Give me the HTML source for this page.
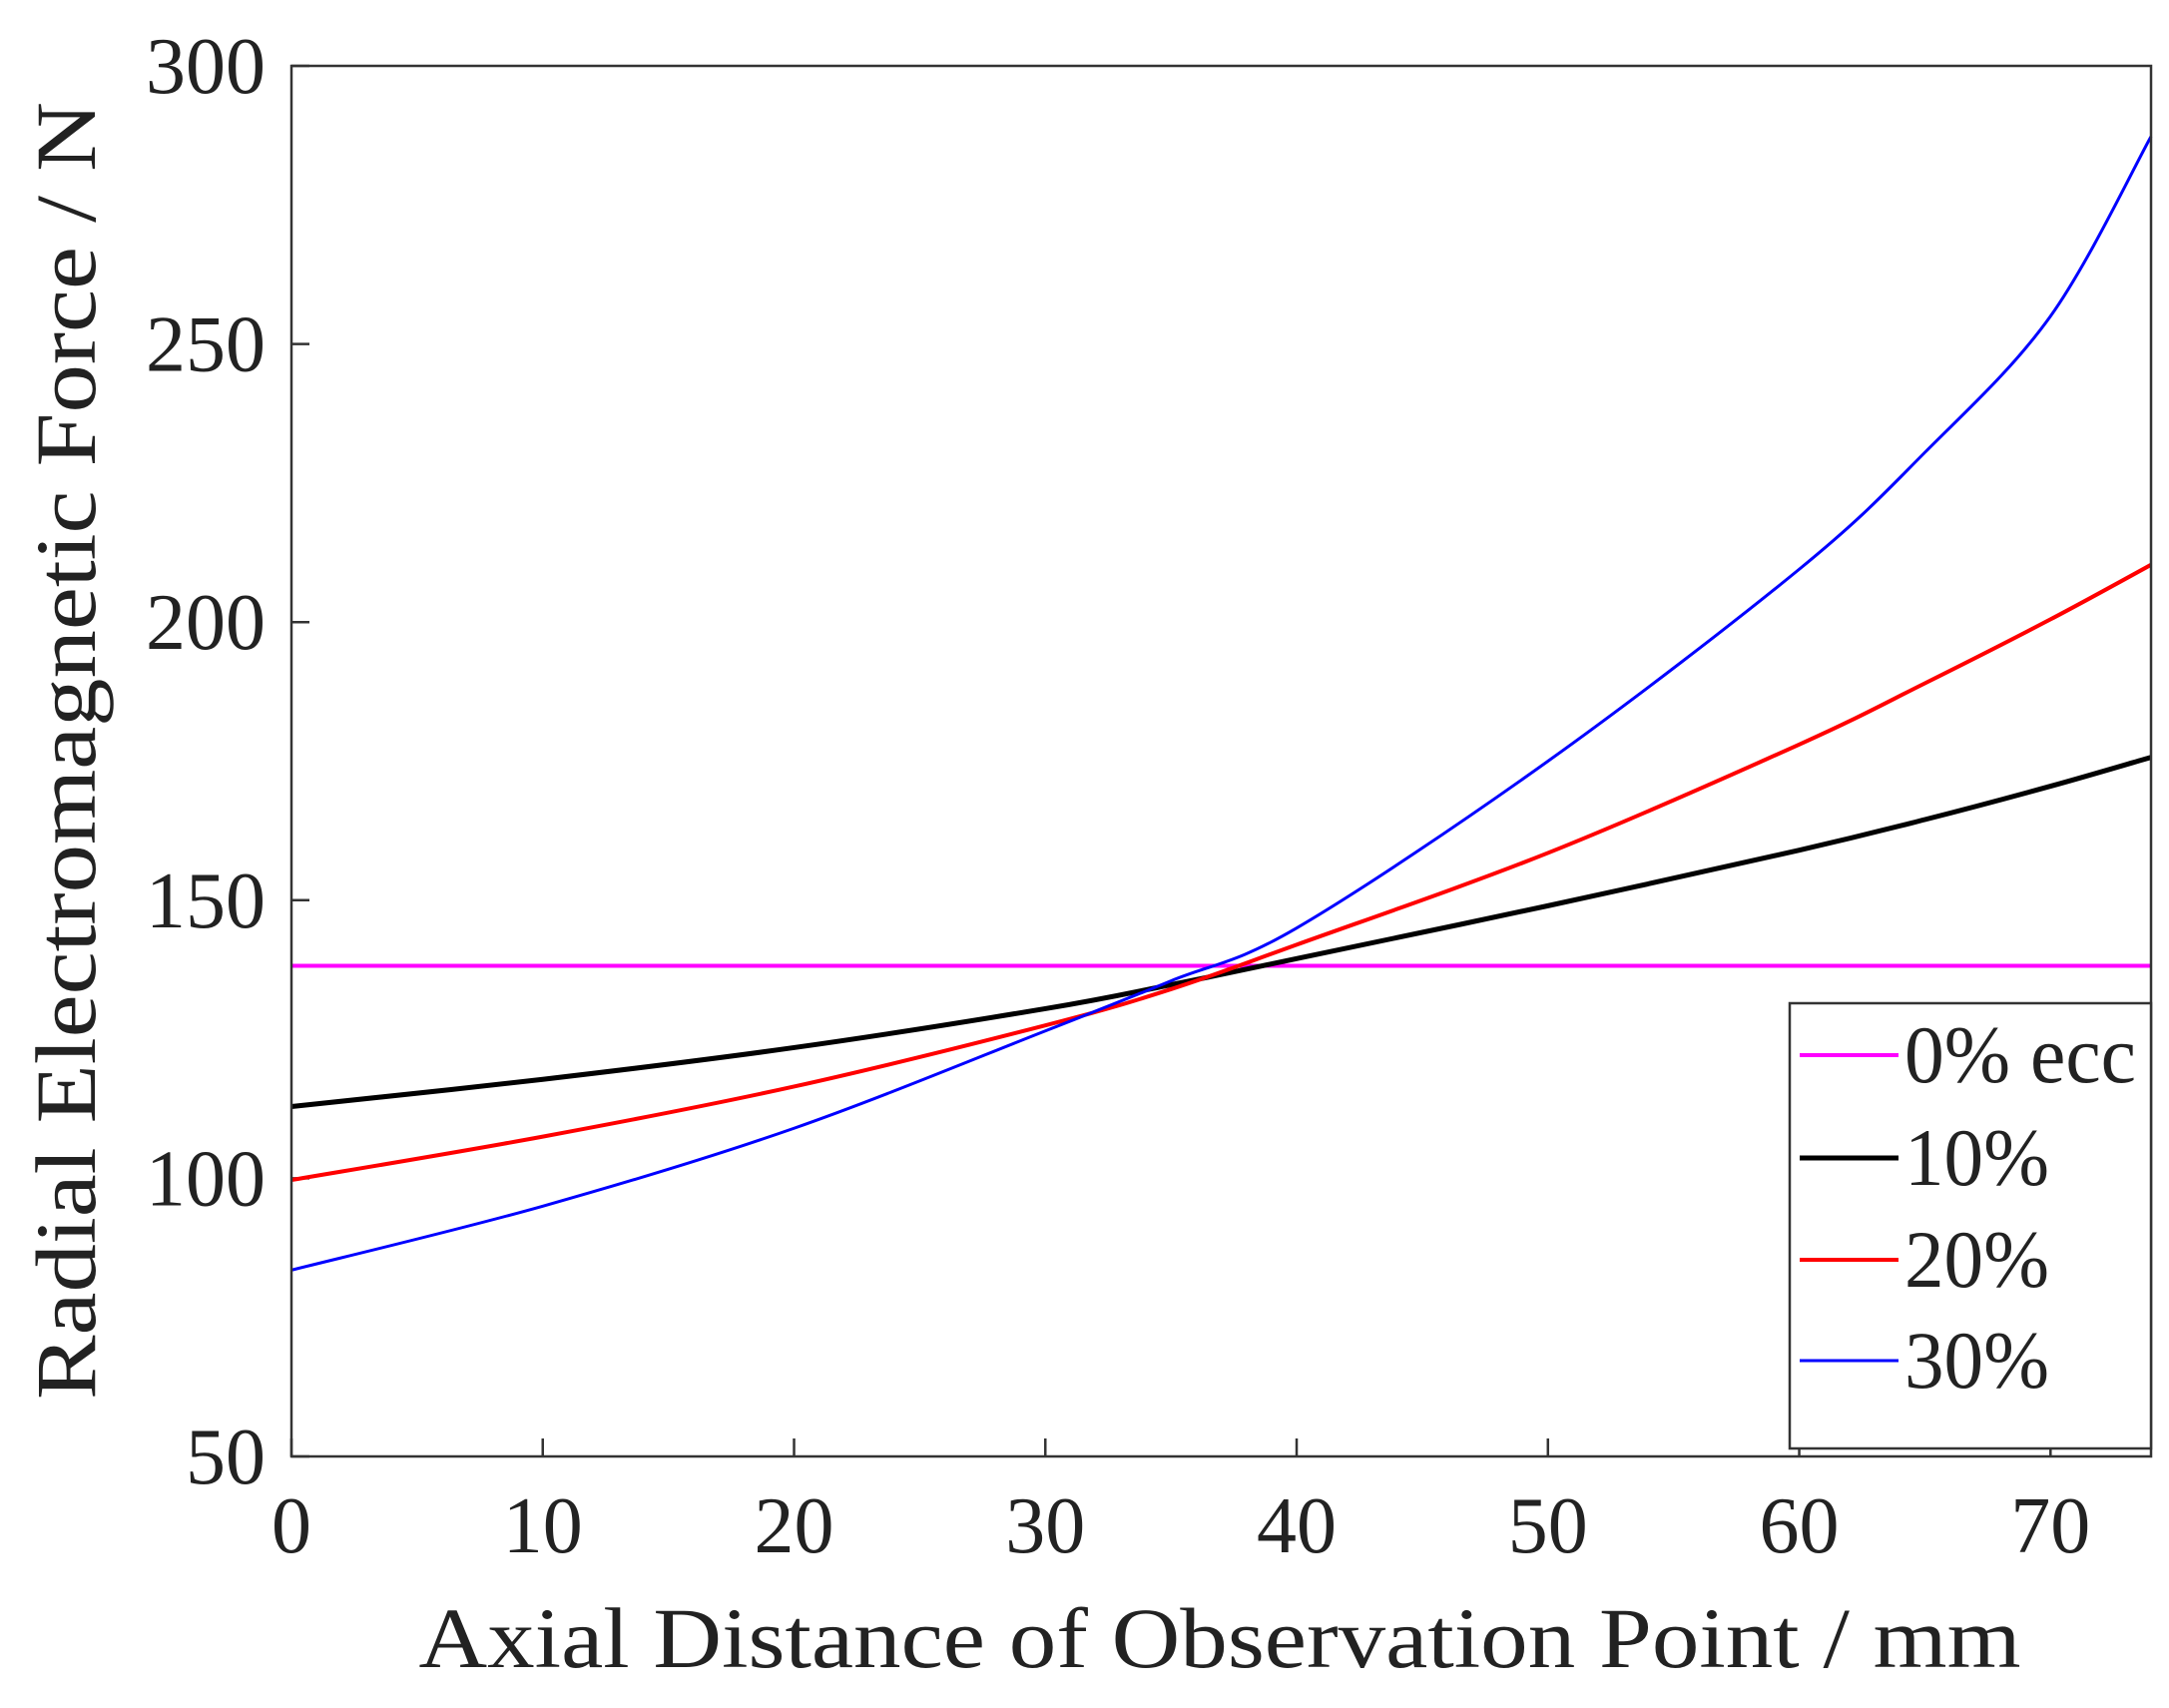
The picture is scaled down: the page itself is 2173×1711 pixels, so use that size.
<!DOCTYPE html>
<html><head><meta charset="utf-8"><style>
body{margin:0;background:#fff}
svg text{font-family:"Liberation Serif",serif;fill:#222}
</style></head><body>
<svg id="chart" width="2173" height="1706" viewBox="0 0 2173 1706" xmlns="http://www.w3.org/2000/svg">
<rect width="2173" height="1706" fill="#fff"/>
<g id="grid"></g>
<g id="series"></g>
<rect x="292" y="66" width="1863" height="1393" fill="none" stroke="#333" stroke-width="2.5"/>
<text x="1222" y="1670" font-size="86" text-anchor="middle" textLength="1605" lengthAdjust="spacingAndGlyphs">Axial Distance of Observation Point / mm</text>
<text transform="translate(95,752) rotate(-90)" font-size="86" text-anchor="middle" textLength="1300" lengthAdjust="spacingAndGlyphs">Radial Electromagnetic Force / N</text>
<g id="legend"></g>
</svg>
<script>
const xTicks=[0,10,20,30,40,50,60,70];
const yTicks=[50,100,150,200,250,300];
const seriesNames=["0% ecc","10%","20%","30%"];
const xs=[0,10,20,30,35,40,50,60,65,70,74];
const ecc0=[138.2,138.2,138.2,138.2,138.2,138.2,138.2,138.2,138.2,138.2,138.2];
const ecc10=[112.9,117.8,123.5,130.5,134.8,139.5,149,159,164.5,170.5,175.7];
const ecc20=[99.7,107.5,116.5,127.5,134,142,158.5,178,189,200.5,210.3];
const ecc30=[83.5,95,109,126.5,135.5,145,175,209.5,230.5,255,287.3];
const L=292,R=2155,T=66,B=1459,XMAX=74,YMIN=50,YMAX=300;
const sx=v=>L+(v/XMAX)*(R-L);
const sy=v=>B-(v-YMIN)/(YMAX-YMIN)*(B-T);
const NS="http://www.w3.org/2000/svg";
const svg=document.getElementById('chart');
const grid=document.getElementById('grid');
function mk(tag,attrs,parent){const e=document.createElementNS(NS,tag);for(const k in attrs)e.setAttribute(k,attrs[k]);parent.appendChild(e);return e;}
xTicks.forEach(t=>{
 const x=sx(t);
 const a=mk('line',{x1:x,x2:x,y1:B,y2:B-18,stroke:'#333','stroke-width':2.5},grid);
 
 
 const tx=mk('text',{x:x,y:1555,'font-size':80,'text-anchor':'middle'},svg);
 tx.textContent=t;
 
 
});
yTicks.forEach(t=>{
 const y=sy(t);
 const a=mk('line',{x1:L,x2:L+18,y1:y,y2:y,stroke:'#333','stroke-width':2.5},grid);
 
 
 const tx=mk('text',{x:266,y:y+27,'font-size':80,'text-anchor':'end'},svg);
 tx.textContent=t;
 
 
});
function pathFor(vals){
 const p=xs.map((x,i)=>[sx(x),sy(vals[i])]);
 let d='M'+p[0][0]+','+p[0][1];
 for(let i=0;i<p.length-1;i++){
  const p0=p[Math.max(0,i-1)],p1=p[i],p2=p[i+1],p3=p[Math.min(p.length-1,i+2)];
  const c1=[p1[0]+(p2[0]-p0[0])/6,p1[1]+(p2[1]-p0[1])/6];
  const c2=[p2[0]-(p3[0]-p1[0])/6,p2[1]-(p3[1]-p1[1])/6];
  d+=` C${c1[0]},${c1[1]} ${c2[0]},${c2[1]} ${p2[0]},${p2[1]}`;
 }
 return d;
}
const colors=['#ff00ff','#000','#ff0000','#0000ff'];
const widths=[4,5,4,3];
const data=[ecc0,ecc10,ecc20,ecc30];
const sg=document.getElementById('series');
data.forEach((v,i)=>{
 const p=mk('path',{d:pathFor(v),fill:'none',stroke:colors[i],'stroke-width':widths[i]},sg);
 
 
});
const lg=document.getElementById('legend');
const box=mk('rect',{x:1793,y:1005,width:362,height:446,fill:'#fff',stroke:'#333','stroke-width':2.5},lg);


const rows=[1057,1160,1262,1363];
const tl=[232,145,145,145];
seriesNames.forEach((n,i)=>{
 const ln=mk('line',{x1:1803,x2:1902,y1:rows[i],y2:rows[i],stroke:colors[i],'stroke-width':widths[i]},lg);
 
 
 const t=mk('text',{x:1908,y:rows[i]+27,'font-size':82,textLength:tl[i],lengthAdjust:'spacingAndGlyphs'},lg);
 t.textContent=n;
 
 
});
</script>
</body></html>
